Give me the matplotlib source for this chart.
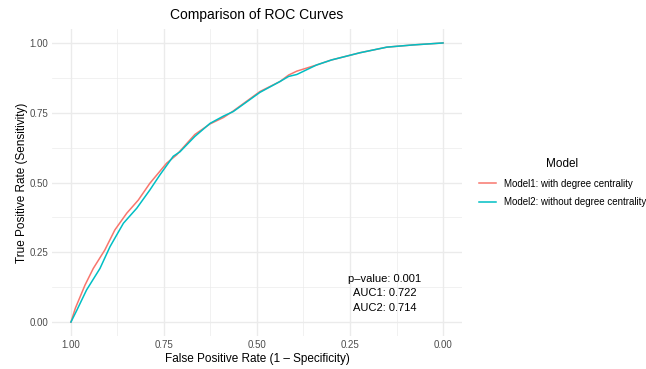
import matplotlib.pyplot as plt
from matplotlib.ticker import MultipleLocator

plt.rcParams['font.family'] = ['Liberation Sans', 'DejaVu Sans']

# false positive rate (1 - specificity) and sensitivity
fpr1 = [0.0, 0.012, 0.038, 0.060, 0.091, 0.118, 0.150, 0.181, 0.212, 0.257, 0.284,
        0.333, 0.374, 0.41, 0.436, 0.508, 0.562, 0.585, 0.607, 0.66, 0.70, 0.777,
        0.849, 0.920, 1.0]
tpr1 = [0.0, 0.05, 0.133, 0.192, 0.258, 0.330, 0.390, 0.437, 0.497, 0.569, 0.599,
        0.672, 0.710, 0.733, 0.756, 0.826, 0.862, 0.885, 0.899, 0.921, 0.939, 0.965,
        0.985, 0.993, 1.0]
fpr2 = [0.0, 0.015, 0.042, 0.078, 0.105, 0.141, 0.177, 0.212, 0.239, 0.275, 0.293,
        0.333, 0.374, 0.41, 0.436, 0.508, 0.562, 0.585, 0.607, 0.66, 0.70, 0.777,
        0.849, 0.920, 1.0]
tpr2 = [0.0, 0.04, 0.115, 0.192, 0.270, 0.354, 0.408, 0.473, 0.527, 0.594, 0.610,
        0.665, 0.712, 0.738, 0.754, 0.823, 0.862, 0.880, 0.887, 0.921, 0.939, 0.965,
        0.985, 0.993, 1.0]

labels = ['Model1: with degree centrality', 'Model2: without degree centrality']
colors = ['#F8766D', '#00BFC4']
annot = ['p\u2013value: 0.001', 'AUC1: 0.722', 'AUC2: 0.714']

fig = plt.figure(figsize=(6.46, 3.69), dpi=100)
ax = fig.add_axes([0.081, 0.0894, 0.6336, 0.832])

spec1 = [1 - v for v in fpr1]
spec2 = [1 - v for v in fpr2]
ax.plot(spec1, tpr1, color=colors[0], lw=1.1, label=labels[0])
ax.plot(spec2, tpr2, color=colors[1], lw=1.1, label=labels[1])

ax.set_xlim(1.05, -0.05)
ax.set_ylim(-0.05, 1.05)
ax.xaxis.set_major_locator(MultipleLocator(0.25))
ax.yaxis.set_major_locator(MultipleLocator(0.25))
ax.xaxis.set_minor_locator(MultipleLocator(0.125))
ax.yaxis.set_minor_locator(MultipleLocator(0.125))
ax.xaxis.set_major_formatter(lambda v, p: f'{v:.2f}')
ax.yaxis.set_major_formatter(lambda v, p: f'{v:.2f}')
ax.grid(which='major', color='#EBEBEB', lw=1.0)
ax.grid(which='minor', color='#EBEBEB', lw=0.5)
ax.set_axisbelow(True)
for s in ax.spines.values():
    s.set_visible(False)
ax.tick_params(which='both', length=0, labelsize=7, labelcolor='#4D4D4D', pad=3)

ax.set_xlabel('False Positive Rate (1 \u2013 Specificity)', fontsize=8.5, labelpad=2)
ax.set_ylabel('True Positive Rate (Sensitivity)', fontsize=8.5, labelpad=1)
ax.set_title('Comparison of ROC Curves', fontsize=10, pad=7)

for i, t in enumerate(annot):
    ax.text(0.156, 0.156 - i * 0.052, t, fontsize=8, ha='center', va='center')

leg = ax.legend(loc='center left', bbox_to_anchor=(1.02, 0.5), frameon=False,
                title='Model', fontsize=7, title_fontsize=8.5,
                handlelength=1.8, handletextpad=0.8, labelspacing=0.9)

fig.savefig('out.png', dpi=100)
